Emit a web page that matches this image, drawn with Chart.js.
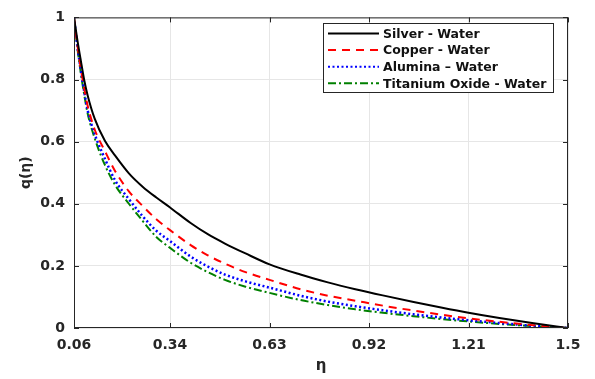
<!DOCTYPE html>
<html><head><meta charset="utf-8">
<script src="https://cdn.jsdelivr.net/npm/chart.js@4/dist/chart.umd.min.js"></script>
<style>html,body{margin:0;padding:0;background:#fff}#wrap{width:595px;height:379px}</style>
</head><body><div id="wrap"><canvas id="c" width="595" height="379"></canvas></div>
<script>
const eta     = [0.06,0.07,0.08,0.09,0.10,0.12,0.15,0.18,0.22,0.26,0.30,0.34,0.40,0.45,0.50,0.56,0.63,0.72,0.80,0.88,0.96,1.05,1.13,1.21,1.30,1.40,1.50];
const silver  = [1.0,0.926,0.86,0.797,0.748,0.675,0.603,0.555,0.498,0.455,0.42,0.388,0.338,0.302,0.272,0.24,0.205,0.172,0.147,0.125,0.105,0.084,0.066,0.049,0.032,0.015,0];
const copper  = [1.0,0.91,0.835,0.77,0.715,0.64,0.57,0.505,0.44,0.393,0.35,0.315,0.267,0.234,0.207,0.18,0.155,0.125,0.104,0.088,0.072,0.056,0.043,0.031,0.02,0.009,0];
const alumina = [1.0,0.905,0.83,0.76,0.70,0.625,0.545,0.475,0.415,0.36,0.313,0.28,0.23,0.198,0.172,0.15,0.13,0.104,0.085,0.07,0.057,0.044,0.034,0.025,0.016,0.007,0];
const titania = [1.0,0.90,0.82,0.75,0.69,0.612,0.525,0.46,0.40,0.345,0.293,0.258,0.21,0.18,0.155,0.133,0.113,0.09,0.074,0.06,0.049,0.038,0.029,0.021,0.013,0.006,0];
const xTicks = [0.06,0.34,0.63,0.92,1.21,1.5];
const yTicks = [0,0.2,0.4,0.6,0.8,1];
const labels = ['Silver - Water','Copper - Water','Alumina \u2013 Water','Titanium Oxide - Water'];

const pts = arr => eta.map((x,i)=>({x:x,y:arr[i]}));
const FONT = "'DejaVu Sans', sans-serif";

const frame = {
  id:'frame',
  afterDraw(chart){
    const {ctx, chartArea:a, scales:{x,y}} = chart;
    ctx.save();
    ctx.strokeStyle='#262626'; ctx.lineWidth=1;
    ctx.strokeRect(a.left+0.5,a.top+0.5,a.right-a.left-1,a.bottom-a.top-1);
    ctx.beginPath();
    xTicks.forEach(v=>{const px=Math.round(x.getPixelForValue(v))+0.5;
      ctx.moveTo(px,a.bottom);ctx.lineTo(px,a.bottom-5);ctx.moveTo(px,a.top);ctx.lineTo(px,a.top+5);});
    yTicks.forEach(v=>{const py=Math.round(y.getPixelForValue(v))+0.5;
      ctx.moveTo(a.left,py);ctx.lineTo(a.left+5,py);ctx.moveTo(a.right,py);ctx.lineTo(a.right-5,py);});
    ctx.stroke();
    // legend
    const lx=323, ly=23, lw=230, lh=69;
    ctx.fillStyle='#fff'; ctx.fillRect(lx,ly,lw,lh);
    ctx.strokeStyle='#262626'; ctx.lineWidth=1; ctx.strokeRect(lx+0.5,ly+0.5,lw,lh);
    ctx.font="bold 12.5px "+FONT; ctx.textBaseline='middle'; ctx.textAlign='left';
    chart.data.datasets.forEach((ds,i)=>{
      const yy=ly+10.5+i*16.6;
      ctx.beginPath(); ctx.strokeStyle=ds.borderColor; ctx.lineWidth=2;
      ctx.setLineDash(ds.borderDash||[]);
      ctx.moveTo(lx+5,yy); ctx.lineTo(lx+56,yy); ctx.stroke();
      ctx.setLineDash([]);
      ctx.fillStyle='#111'; ctx.fillText(ds.label,lx+60,yy+1);
    });
    ctx.restore();
  }
};

new Chart(document.getElementById('c'),{
  type:'line',
  data:{datasets:[
    {label:labels[0],data:pts(silver),borderColor:'#000000',borderWidth:2},
    {label:labels[1],data:pts(copper),borderColor:'#ff0000',borderWidth:2,borderDash:[8,6]},
    {label:labels[2],data:pts(alumina),borderColor:'#0000ff',borderWidth:2.5,borderDash:[2,2.5]},
    {label:labels[3],data:pts(titania),borderColor:'#008000',borderWidth:2,borderDash:[8,3,2,3]}
  ]},
  options:{
    responsive:false, animation:false,
    layout:{padding:{left:14,right:27,top:12,bottom:0}},
    elements:{point:{radius:0},line:{cubicInterpolationMode:'monotone',fill:false}},
    plugins:{legend:{display:false},tooltip:{enabled:false}},
    scales:{
      x:{type:'linear',min:0.06,max:1.5,
        afterBuildTicks(s){s.ticks=xTicks.map(v=>({value:v}));},
        afterFit(s){s.height=51;},
        grid:{color:'#e6e6e6',drawTicks:false},border:{display:false},
        ticks:{padding:9,color:'#262626',font:{family:FONT,size:14,weight:'bold'},maxRotation:0,autoSkip:false,
          callback:v=>String(v)},
        title:{display:true,text:'\u03b7',color:'#262626',font:{family:FONT,size:15,weight:'bold'},padding:{top:3}}
      },
      y:{type:'linear',min:0,max:1,
        afterBuildTicks(s){s.ticks=yTicks.map(v=>({value:v}));},
        afterFit(s){s.width=60;},
        grid:{color:'#e6e6e6',drawTicks:false},border:{display:false},
        ticks:{padding:9,color:'#262626',font:{family:FONT,size:14,weight:'bold'},callback:v=>String(Math.round(v*10)/10)},
        title:{display:true,text:'q(\u03b7)',color:'#262626',font:{family:FONT,size:14,weight:'bold'},padding:{top:4,bottom:4}}
      }
    }
  },
  plugins:[frame]
});
</script></body></html>
